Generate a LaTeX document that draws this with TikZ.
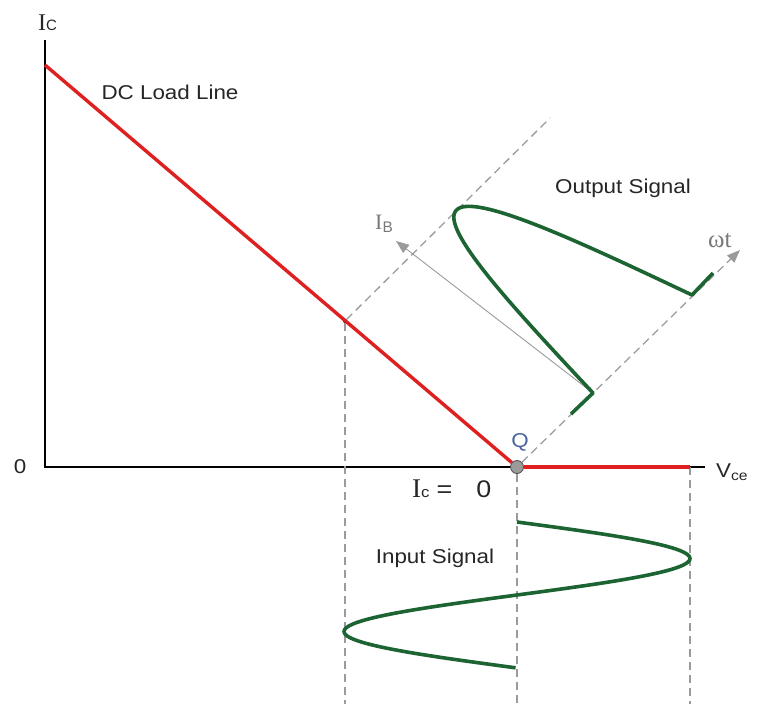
\documentclass[tikz,border=0pt]{standalone}
\usepackage{fontspec}
\setmainfont{Liberation Sans}
\newfontfamily\serifI{Liberation Serif}
\newfontfamily\widesans[FakeStretch=1.12]{Liberation Sans}
\usepackage{tikz}
\usetikzlibrary{arrows.meta}
\definecolor{LoadRed}{RGB}{222,32,32}
\definecolor{WaveGreen}{RGB}{28,100,50}
\definecolor{GuideGray}{RGB}{155,155,155}
\definecolor{TextGray}{RGB}{120,120,120}
\definecolor{QBlue}{RGB}{75,100,160}
\newcommand{\curr}[1]{{\serifI I}{\fontsize{15}{16}\selectfont #1}}
\tikzset{
  axisline/.style={line width=1.8pt, black},
  loadline/.style={line width=3.4pt, LoadRed},
  guideline/.style={GuideGray, line width=1.3pt, dash pattern=on 8pt off 5pt},
  wave/.style={line width=3.6pt, WaveGreen, line join=round},
  pointer/.style={-{Triangle[length=13pt,width=10pt]}, GuideGray},
  tag/.style={font=\widesans\fontsize{20}{24}\selectfont, text=black!85, anchor=base, inner sep=0pt},
}

\begin{document}
\begin{tikzpicture}[x=1pt, y=-1pt]
  \useasboundingbox (0,0) rectangle (757,704);

  % Pontos de referencia
  \coordinate (O) at (45,467);
  \coordinate (ytop) at (45,40);
  \coordinate (xend) at (705,467);
  \coordinate (Icmax) at (45,65);
  \coordinate (Vmax) at (690,467);
  \coordinate (bottom) at (0,704);
  \coordinate (guidetop) at (550,118);
  \coordinate (wt) at (740,250);
  \coordinate (IB) at (396,241);
  % saida: trechos sobre o eixo wt
  \coordinate (o1) at (571,414);
  \coordinate (o2) at (593,393);
  \coordinate (o3) at (692,295);
  \coordinate (o4) at (713,273);

  % Eixos
  \draw[axisline] (ytop) -- (O) -- (xend);

  % Ponto Q e ponto na reta de carga
  \node[circle, draw=black!70, fill=GuideGray, line width=0.8pt, minimum size=13pt, inner sep=0pt] (Q) at (517,467) {};
  \node[circle, fill=black, minimum size=4pt, inner sep=0pt] (P) at (345,321) {};

  % Guias tracejadas
  \draw[guideline] (P) -- (P |- bottom);
  \draw[guideline] (Q) -- (Q |- bottom);
  \draw[guideline] (Vmax) -- (Vmax |- bottom);
  \draw[guideline] (P) -- (guidetop);
  \draw[guideline, pointer] (Q) -- (wt);

  % Reta de carga
  \draw[loadline] (Icmax) -- (Q);
  \draw[loadline] (Q) -- (Vmax);

  % Eixo IB
  \draw[pointer, line width=0.9pt] (o2) -- (IB);

  % Sinal de saida
  \draw[wave] (o1) -- (o2)
    -- plot[variable=\t, domain=0:1, samples=80]
       ({593+99*\t-186*sin(180*\t)}, {393-98*\t-134*sin(180*\t)})
    -- (o3) -- (o4);

  % Sinal de entrada
  \draw[wave] plot[variable=\t, domain=0:1, samples=120]
    ({517+173*sin(360*\t)}, {522+146*\t});

  % Rotulos
  \node[tag, anchor=base west, font=\fontsize{24}{26}\selectfont] (lic) at (38,30) {\curr{C}};
  \node[tag] (lzero) at (20,473) {0};
  \node[tag, anchor=base west] (lvce) at (716,477) {V\textsubscript{ce}};
  \node[tag, text=QBlue] (lq) at (520,447) {Q};
  \node[tag, anchor=base west, font=\widesans\fontsize{24}{26}\selectfont] (lic0) at (412,497) {{\fontsize{27}{28}\selectfont\curr{c}}\hspace{7pt}=\hspace{24pt}0};
  \node[tag] (ldc) at (170,99) {DC Load Line};
  \node[tag] (lout) at (623,193) {Output Signal};
  \node[tag] (lin) at (435,563) {Input Signal};
  \node[tag, anchor=base west, text=TextGray, font=\fontsize{22}{24}\selectfont] (lib) at (375,229) {{\serifI I}\textsubscript{B}};
  \node[tag, anchor=base west, text=TextGray, font=\fontsize{25}{26}\selectfont] (lwt) at (708,247) {\serifI ωt};
\end{tikzpicture}
\end{document}
